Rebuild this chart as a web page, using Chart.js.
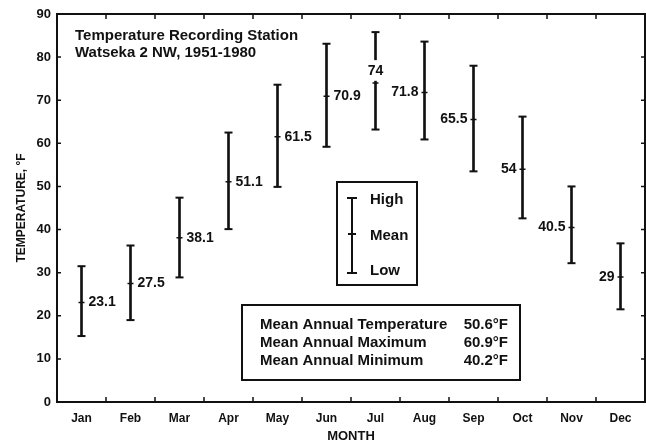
<!DOCTYPE html>
<html>
<head>
<meta charset="utf-8">
<script src="https://cdn.jsdelivr.net/npm/chart.js@4.4.1/dist/chart.umd.min.js"></script>
<style>
    body { margin: 0; background: #fff; }
    canvas { display: block; }
</style>
</head>
<body>
<canvas id="chart1" width="646" height="444"></canvas>
<script>
// Monthly temperatures, Watseka 2 NW, 1951-1980
const months = ["Jan", "Feb", "Mar", "Apr", "May", "Jun", "Jul", "Aug", "Sep", "Oct", "Nov", "Dec"];
const highs = [31.5, 36.3, 47.4, 62.5, 73.6, 83.1, 85.8, 83.6, 78.0, 66.2, 50.0, 36.8];
const lows = [15.3, 19.0, 28.9, 40.1, 49.9, 59.2, 63.2, 60.9, 53.5, 42.6, 32.2, 21.5];
const means = [23.1, 27.5, 38.1, 51.1, 61.5, 70.9, 74, 71.8, 65.5, 54, 40.5, 29];
const meanLabels = ["23.1", "27.5", "38.1", "51.1", "61.5", "70.9", "74", "71.8", "65.5", "54", "40.5", "29"];
const yTicks = [0, 10, 20, 30, 40, 50, 60, 70, 80, 90];
const titleLines = ["Temperature Recording Station", "Watseka 2 NW, 1951-1980"];
const keyLabels = ["High", "Mean", "Low"];
const annualLabels = ["Mean Annual Temperature", "Mean Annual Maximum", "Mean Annual Minimum"];
const annualValues = ["50.6\u00B0F", "60.9\u00B0F", "40.2\u00B0F"];

document.addEventListener("DOMContentLoaded", () => {
    const chartCanvas = document.getElementById("chart1");
    const FONT = "'Liberation Sans', Arial, sans-serif";
    const INK = "#111";

    // where each mean label sits relative to its bar
    const labelSide = ["r", "r", "r", "r", "r", "r", "c", "l", "l", "l", "l", "l"];

    // frame, inward ticks, mean labels and the two boxes
    const annotations = {
        id: "annotations",
        afterDatasetsDraw(chart) {
            const { ctx, chartArea: a, scales: { x, y } } = chart;
            ctx.save();
            ctx.strokeStyle = INK;
            ctx.fillStyle = INK;

            // frame
            ctx.lineWidth = 2;
            ctx.strokeRect(a.left, a.top, a.right - a.left, a.bottom - a.top);

            // ticks between months, pointing in
            ctx.lineWidth = 1.5;
            ctx.beginPath();
            for (let i = 1; i < months.length; i++) {
                const bx = (x.getPixelForValue(i - 1) + x.getPixelForValue(i)) / 2;
                ctx.moveTo(bx, a.top); ctx.lineTo(bx, a.top + 5);
                ctx.moveTo(bx, a.bottom); ctx.lineTo(bx, a.bottom - 5);
            }
            yTicks.forEach(v => {
                const py = y.getPixelForValue(v);
                ctx.moveTo(a.left, py); ctx.lineTo(a.left + 4, py);
                ctx.moveTo(a.right, py); ctx.lineTo(a.right - 4, py);
            });
            ctx.stroke();

            // mean value labels
            ctx.font = "bold 14px " + FONT;
            ctx.textBaseline = "middle";
            means.forEach((m, i) => {
                const px = x.getPixelForValue(i);
                const py = y.getPixelForValue(m);
                if (labelSide[i] === "r") {
                    ctx.textAlign = "left";
                    ctx.fillText(meanLabels[i], px + 7, py);
                } else if (labelSide[i] === "l") {
                    ctx.textAlign = "right";
                    ctx.fillText(meanLabels[i], px - 6, py);
                } else {
                    const top = y.getPixelForValue(79.3);
                    const bot = y.getPixelForValue(74.5);
                    ctx.fillStyle = "#fff";
                    ctx.fillRect(px - 12, top, 24, bot - top);
                    ctx.fillStyle = INK;
                    ctx.textAlign = "center";
                    ctx.fillText(meanLabels[i], px, (top + bot) / 2 + 1);
                }
            });

            // station title
            ctx.textAlign = "left";
            ctx.textBaseline = "alphabetic";
            ctx.font = "bold 15px " + FONT;
            ctx.fillText(titleLines[0], 75, 40);
            ctx.fillText(titleLines[1], 75, 57);

            // key box
            ctx.lineWidth = 2;
            ctx.strokeRect(337, 182, 80, 103);
            ctx.beginPath();
            ctx.moveTo(352, 198); ctx.lineTo(352, 273);
            ctx.moveTo(347, 198); ctx.lineTo(357, 198);
            ctx.moveTo(347, 273); ctx.lineTo(357, 273);
            ctx.moveTo(348, 234); ctx.lineTo(356, 234);
            ctx.stroke();
            ctx.font = "bold 15px " + FONT;
            ctx.fillText(keyLabels[0], 370, 204);
            ctx.fillText(keyLabels[1], 370, 240);
            ctx.fillText(keyLabels[2], 370, 275);

            // annual summary box
            ctx.strokeRect(242, 305, 278, 75);
            annualLabels.forEach((t, i) => {
                const by = 329 + i * 18;
                ctx.textAlign = "left";
                ctx.fillText(t, 260, by);
                ctx.textAlign = "right";
                ctx.fillText(annualValues[i], 508, by);
            });
            ctx.restore();
        }
    };

    new Chart(chartCanvas.getContext("2d"), {
        type: "bar",
        data: {
            labels: months,
            datasets: [
                {
                    label: "Range",
                    data: months.map((_, i) => [lows[i], highs[i]]),
                    backgroundColor: INK,
                    barThickness: 2,
                    order: 3
                },
                {
                    type: "line",
                    label: "High",
                    data: highs,
                    showLine: false,
                    pointStyle: "line",
                    pointRadius: 4,
                    borderColor: INK,
                    borderWidth: 2,
                    order: 1
                },
                {
                    type: "line",
                    label: "Low",
                    data: lows,
                    showLine: false,
                    pointStyle: "line",
                    pointRadius: 4,
                    borderColor: INK,
                    borderWidth: 2,
                    order: 1
                },
                {
                    type: "line",
                    label: "Mean",
                    data: means,
                    showLine: false,
                    pointStyle: "line",
                    pointRadius: 3,
                    borderColor: INK,
                    borderWidth: 1.5,
                    order: 2
                }
            ]
        },
        options: {
            responsive: false,
            animation: false,
            layout: { autoPadding: false, padding: { top: 14, right: 1, left: 0, bottom: 0 } },
            plugins: {
                legend: { display: false },
                tooltip: { enabled: false }
            },
            scales: {
                x: {
                    grid: { display: false, drawTicks: false },
                    border: { display: false },
                    ticks: { color: INK, font: { family: FONT, size: 12, weight: "bold" }, padding: 9, maxRotation: 0 },
                    title: { display: true, text: "MONTH", color: INK, font: { family: FONT, size: 13, weight: "bold" }, padding: { top: 0, bottom: 0 } },
                    afterFit: s => { s.height = 42; s.paddingLeft = 0; s.paddingRight = 0; }
                },
                y: {
                    min: 0,
                    max: 90,
                    grid: { display: false, drawTicks: false },
                    border: { display: false },
                    afterBuildTicks: s => { s.ticks = yTicks.map(v => ({ value: v })); },
                    ticks: { color: INK, font: { family: FONT, size: 13, weight: "bold" }, padding: 6 },
                    title: { display: true, text: "TEMPERATURE, \u00B0F", color: INK, font: { family: FONT, size: 12, weight: "bold" }, padding: { top: 14, bottom: 0 } },
                    afterFit: s => { s.width = 57; }
                }
            }
        },
        plugins: [annotations]
    });
});
</script>
</body>
</html>
